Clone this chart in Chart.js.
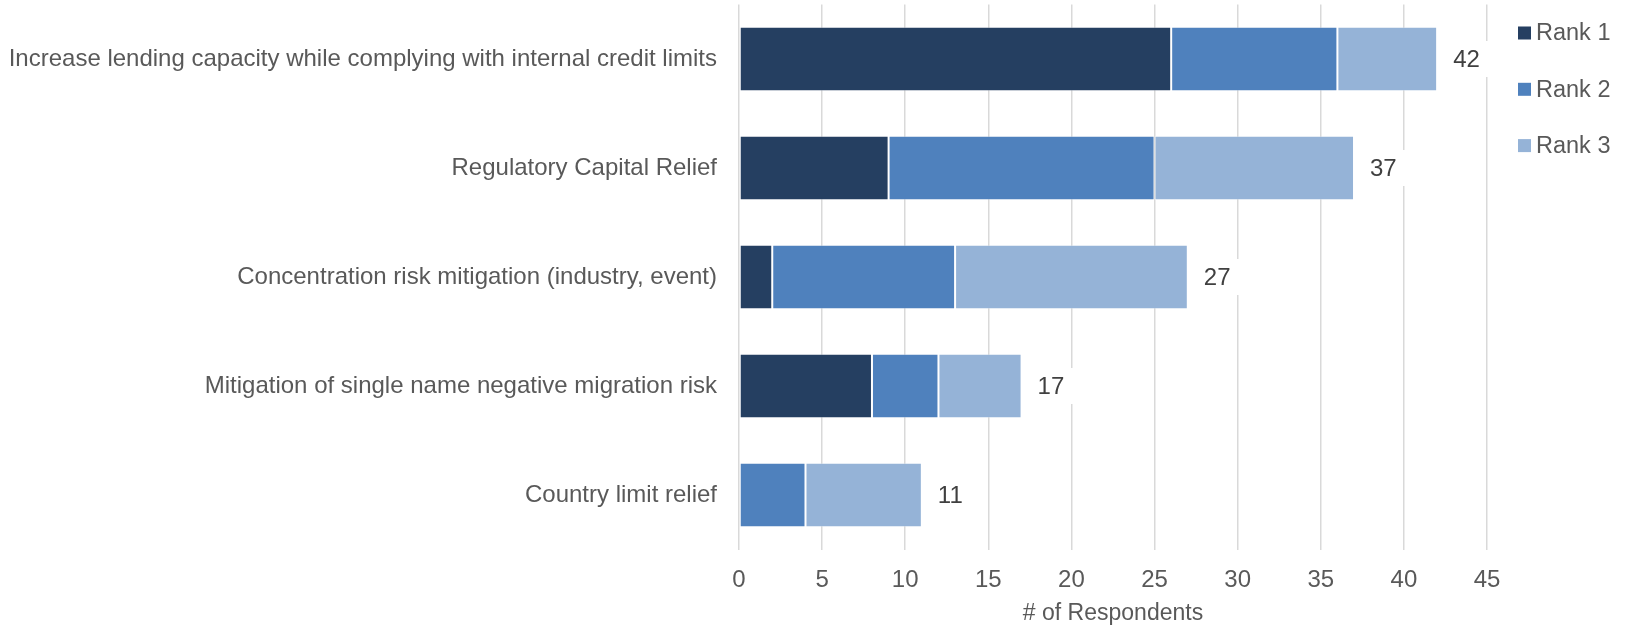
<!DOCTYPE html>
<html>
<head>
<meta charset="utf-8">
<script src="https://cdn.jsdelivr.net/npm/chart.js@4.4.1/dist/chart.umd.min.js"></script>
<style>
  html, body { margin: 0; padding: 0; background: #ffffff; }
  #wrap { width: 1625px; height: 627px; position: relative; }
</style>
</head>
<body>
<div id="wrap"><canvas id="chart"></canvas></div>
<script>
// Survey: objectives ranked by respondents
const categories = [
  'Increase lending capacity while complying with internal credit limits',
  'Regulatory Capital Relief',
  'Concentration risk mitigation (industry, event)',
  'Mitigation of single name negative migration risk',
  'Country limit relief'
];
const rank1 = [26, 9, 2, 8, 0];
const rank2 = [10, 16, 11, 4, 4];
const rank3 = [6, 12, 14, 5, 7];
const seriesNames = ['Rank 1', 'Rank 2', 'Rank 3'];
const xTicks = [0, 5, 10, 15, 20, 25, 30, 35, 40, 45];

const colors = ['#253F61', '#4F81BD', '#95B3D7'];
const FONT = '"Liberation Sans", Arial, sans-serif';

// Total per row, written to the right of each stacked bar on a white plate
const totalLabels = {
  id: 'totalLabels',
  afterDatasetsDraw(chart) {
    const { ctx, scales: { x, y } } = chart;
    ctx.save();
    ctx.font = '24px ' + FONT;
    ctx.textBaseline = 'middle';
    ctx.textAlign = 'left';
    categories.forEach((c, i) => {
      const total = chart.data.datasets.reduce((s, d) => s + d.data[i], 0);
      const px = x.getPixelForValue(total);
      const py = y.getPixelForValue(i);
      const txt = String(total);
      const tw = ctx.measureText(txt).width;
      ctx.fillStyle = '#ffffff';
      ctx.fillRect(px + 6, py - 18, tw + 26, 36);
      ctx.fillStyle = '#404040';
      ctx.fillText(txt, px + 16, py + 1);
    });
    ctx.restore();
  }
};

// Vertical legend on the right
const sideLegend = {
  id: 'sideLegend',
  afterDraw(chart) {
    const { ctx } = chart;
    ctx.save();
    ctx.font = '23.5px ' + FONT;
    ctx.textBaseline = 'middle';
    ctx.textAlign = 'left';
    chart.data.datasets.forEach((d, i) => {
      const cy = 33 + i * 56.3;
      ctx.fillStyle = d.backgroundColor;
      ctx.fillRect(1518, cy - 6.5, 13, 13);
      ctx.fillStyle = '#595959';
      ctx.fillText(d.label, 1536, cy + 1);
    });
    ctx.restore();
  }
};

new Chart(document.getElementById('chart'), {
  type: 'bar',
  data: {
    labels: categories,
    datasets: [rank1, rank2, rank3].map((vals, k) => ({
      label: seriesNames[k],
      data: vals,
      backgroundColor: colors[k],
      borderColor: 'rgba(255,255,255,0.35)',
      borderWidth: 1,
      borderSkipped: false,
      categoryPercentage: 0.59,
      barPercentage: 1
    }))
  },
  options: {
    indexAxis: 'y',
    responsive: true,
    maintainAspectRatio: false,
    animation: false,
    layout: { padding: { top: 4.5, left: 10, right: 138, bottom: 0 } },
    plugins: {
      legend: { display: false },
      tooltip: { enabled: false }
    },
    scales: {
      x: {
        stacked: true,
        min: 0,
        max: 45,
        afterBuildTicks(scale) {
          scale.ticks = xTicks.map(v => ({ value: v }));
        },
        afterFit(scale) {
          scale.height = 77.5;
          scale.paddingLeft = 0;
          scale.paddingRight = 0;
        },
        grid: { color: '#d9d9d9', lineWidth: 1.5, drawTicks: false },
        border: { display: false },
        ticks: {
          color: '#595959',
          font: { family: FONT, size: 24 },
          padding: 16,
          maxRotation: 0,
          autoSkip: false
        },
        title: {
          display: true,
          text: '# of Respondents',
          color: '#595959',
          font: { family: FONT, size: 23 },
          padding: { top: 0, bottom: 0 }
        }
      },
      y: {
        stacked: true,
        afterFit(scale) {
          scale.width = 729;
          scale.paddingTop = 0;
          scale.paddingBottom = 0;
        },
        grid: { display: false, drawTicks: false },
        border: { display: false },
        ticks: {
          color: '#595959',
          font: { family: FONT, size: 24 },
          padding: 22
        }
      }
    }
  },
  plugins: [totalLabels, sideLegend]
});
</script>
</body>
</html>
